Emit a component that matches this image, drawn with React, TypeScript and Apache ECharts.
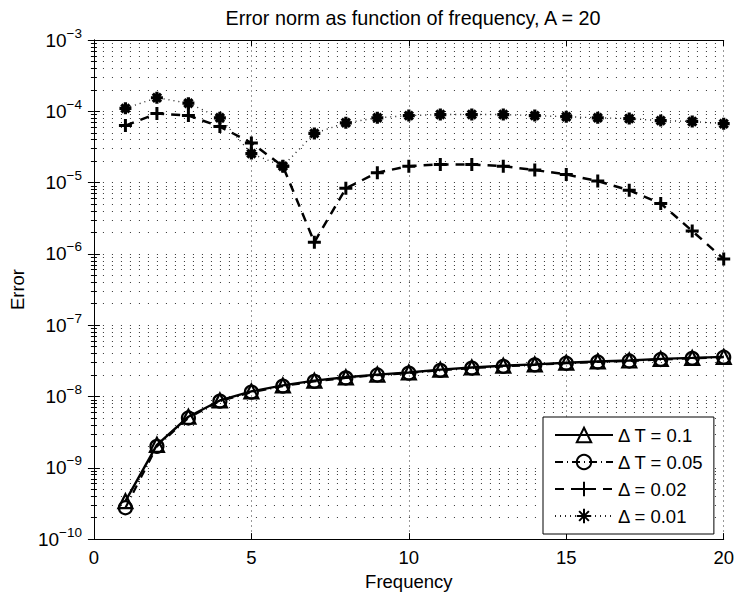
import React, { useEffect, useRef } from "react";
import * as echarts from "echarts";

const freq = [1, 2, 3, 4, 5, 6, 7, 8, 9, 10, 11, 12, 13, 14, 15, 16, 17, 18, 19, 20];
const dt01 = [3.4e-10, 2.1e-9, 5.2e-9, 8.8e-9, 1.18e-8, 1.43e-8, 1.67e-8, 1.86e-8, 2.03e-8, 2.17e-8, 2.38e-8, 2.55e-8, 2.7e-8, 2.82e-8, 2.98e-8, 3.1e-8, 3.2e-8, 3.37e-8, 3.48e-8, 3.6e-8];
const dt005 = [2.75e-10, 2.0e-9, 5.0e-9, 8.6e-9, 1.15e-8, 1.4e-8, 1.63e-8, 1.82e-8, 2.0e-8, 2.13e-8, 2.33e-8, 2.5e-8, 2.65e-8, 2.78e-8, 2.93e-8, 3.05e-8, 3.15e-8, 3.3e-8, 3.43e-8, 3.55e-8];
const d002 = [6.3e-5, 9.3e-5, 8.7e-5, 6.1e-5, 3.6e-5, 1.7e-5, 1.46e-6, 8.3e-6, 1.38e-5, 1.7e-5, 1.8e-5, 1.8e-5, 1.7e-5, 1.5e-5, 1.3e-5, 1.05e-5, 7.8e-6, 5.1e-6, 2.1e-6, 8.5e-7];
const d001 = [1.1e-4, 1.55e-4, 1.3e-4, 8.1e-5, 2.55e-5, 1.7e-5, 4.9e-5, 6.9e-5, 8.1e-5, 8.7e-5, 9.0e-5, 9.0e-5, 9.0e-5, 8.7e-5, 8.4e-5, 8.1e-5, 7.9e-5, 7.4e-5, 7.2e-5, 6.7e-5];
const seriesNames = ["\u0394 T = 0.1", "\u0394 T = 0.05", "\u0394 = 0.02", "\u0394 = 0.01"];
const titleText = "Error norm as function of frequency, A = 20";
const xName = "Frequency";
const yName = "Error";

const FONT = "'Liberation Sans', Arial, Helvetica, sans-serif";
const hGrid = { show: true, lineStyle: { color: "#333", type: [1, 8] as any, width: 1 } };
const vGrid = { show: true, lineStyle: { color: "#999", type: [2, 3] as any, width: 1 } };

function pts(vals: number[]) {
  return freq.map((f, i) => [f, vals[i]]);
}

export default function App() {
  const ref = useRef<HTMLDivElement>(null);
  useEffect(() => {
    if (!ref.current) return;
    const chart = echarts.init(ref.current, undefined, { renderer: "svg" });
    const yLabel = {
      show: true,
      margin: 12,
      fontFamily: FONT,
      color: "#000",
      formatter: (v: number) => {
        const e = Math.round(Math.log10(v));
        return "{b|10}{s|\u2212" + Math.abs(e) + "}";
      },
      rich: {
        b: { fontSize: 19, lineHeight: 24, fontFamily: FONT, color: "#000" },
        s: { fontSize: 13.5, lineHeight: 10, padding: [0, 0, 14, 0], fontFamily: FONT, color: "#000" },
      },
    };
    const commonY = {
      type: "log",
      logBase: 10,
      min: 1e-10,
      max: 1e-3,
      interval: 1,
      axisLine: { show: true, lineStyle: { color: "#000", width: 1 } },
      axisTick: { show: true, inside: true, length: 6, lineStyle: { color: "#000" } },
      minorTick: { show: true, splitNumber: 9, length: 3, lineStyle: { color: "#000" } },
    };
    const commonX = {
      type: "value",
      min: 0,
      max: 20,
      interval: 5,
      axisLine: { show: true, onZero: false, lineStyle: { color: "#000", width: 1 } },
      axisTick: { show: true, inside: true, length: 6, lineStyle: { color: "#000" } },
      minorTick: { show: false },
    };
    const option: any = {
      animation: false,
      backgroundColor: "#fff",
      title: {
        text: titleText,
        left: 408,
        textAlign: "center",
        top: 3,
        textStyle: { fontFamily: FONT, fontSize: 19.8, fontWeight: "normal", color: "#000" },
      },
      grid: { left: 89, top: 40, width: 636, height: 501, containLabel: false },
      xAxis: [
        {
          ...commonX,
          position: "bottom",
          name: xName,
          nameLocation: "middle",
          nameGap: 28,
          nameTextStyle: { fontFamily: FONT, fontSize: 18.5, color: "#000" },
          axisLabel: { show: true, margin: 9, fontFamily: FONT, fontSize: 18.5, color: "#000" },
          splitLine: vGrid,
        },
        {
          ...commonX,
          position: "top",
          axisLabel: { show: false },
          splitLine: { show: false },
        },
      ],
      yAxis: [
        {
          ...commonY,
          position: "left",
          name: yName,
          nameLocation: "middle",
          nameGap: 62,
          nameRotate: 90,
          nameTextStyle: { fontFamily: FONT, fontSize: 18.5, color: "#000" },
          axisLabel: yLabel,
          splitLine: hGrid,
          minorSplitLine: hGrid,
          minorTick: { ...commonY.minorTick, inside: true } as any,
        },
        {
          ...commonY,
          position: "right",
          axisLabel: { show: false },
          splitLine: { show: false },
          axisTick: { ...commonY.axisTick, inside: true },
          minorTick: { show: true, splitNumber: 9, length: 3, inside: true, lineStyle: { color: "#000" } } as any,
        },
      ],
      legend: {
        orient: "vertical",
        left: 543,
        top: 417,
        backgroundColor: "#fff",
        borderColor: "#000",
        borderWidth: 1,
        borderRadius: 0,
        padding: [8, 10, 8, 11],
        itemWidth: 58,
        itemHeight: 18,
        itemGap: 7,
        textStyle: { fontFamily: FONT, fontSize: 18.5, lineHeight: 20, color: "#000" },
        data: seriesNames,
      },
      series: [
        {
          name: seriesNames[0],
          type: "line",
          data: pts(dt01),
          symbol: "triangle",
          symbolSize: 14,
          lineStyle: { color: "#000", width: 2.4, type: "solid" },
          itemStyle: { color: "rgba(255,255,255,0)", borderColor: "#000", borderWidth: 2.2 },
          z: 3,
        },
        {
          name: seriesNames[1],
          type: "line",
          data: pts(dt005),
          symbol: "circle",
          symbolSize: 13,
          lineStyle: { color: "#000", width: 2.2, type: [8, 4, 1, 4] },
          itemStyle: { color: "rgba(255,255,255,0)", borderColor: "#000", borderWidth: 2.2 },
          z: 3,
        },
        {
          name: seriesNames[2],
          type: "line",
          data: pts(d002),
          symbol: "path://M5 0L5 10M0 5L10 5",
          symbolSize: 13,
          lineStyle: { color: "#000", width: 2.5, type: [9, 7] },
          itemStyle: { color: "#000", borderColor: "#000", borderWidth: 3 },
          z: 3,
        },
        {
          name: seriesNames[3],
          type: "line",
          data: pts(d001),
          symbol: "path://M5 0L5 10M0 5L10 5M1.6 1.6L8.4 8.4M8.4 1.6L1.6 8.4",
          symbolSize: 12,
          lineStyle: { color: "#222", width: 1.4, type: [1, 4] },
          itemStyle: { color: "#000", borderColor: "#000", borderWidth: 3.2 },
          z: 3,
        },
      ],
    };
    chart.setOption(option);
    return () => chart.dispose();
  }, []);
  return (
    <div
      ref={ref}
      style={{ position: "fixed", left: 0, top: 0, width: 737, height: 596, background: "#fff" }}
    />
  );
}
